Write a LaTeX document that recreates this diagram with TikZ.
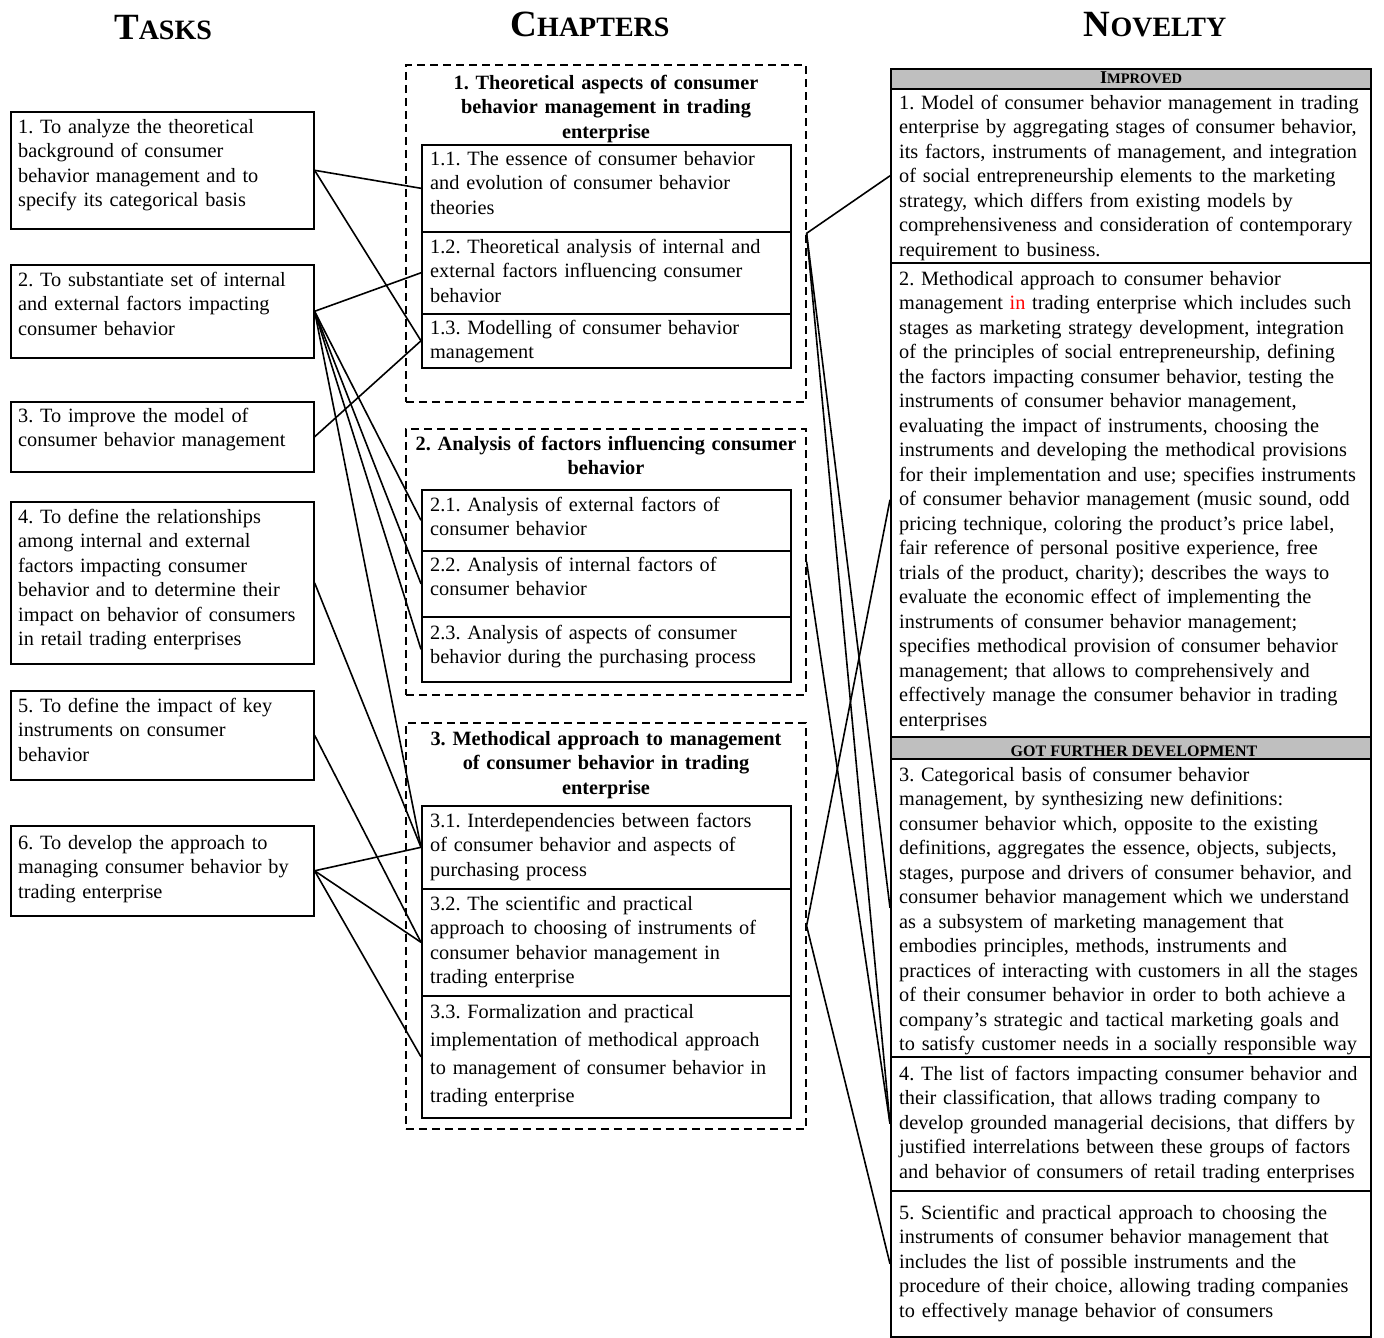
\documentclass[tikz,border=0pt]{standalone}
\usepackage{fontspec}
\setmainfont{Liberation Serif}
\usetikzlibrary{calc}
\definecolor{hgray}{HTML}{BFBFBF}
\frenchspacing
\begin{document}
\begin{tikzpicture}[x=1pt,y=-1pt,
  box/.style={draw, line width=1.6pt, inner sep=0pt, anchor=north west},
  chframe/.style={draw, dash pattern=on 8pt off 5pt, line width=1.6pt, inner sep=0pt, anchor=north west},
  hdr/.style={draw, line width=1.6pt, fill=hgray, inner sep=0pt, anchor=north west},
  txt/.style={inner sep=0pt, align=left, anchor=base west, font=\fontsize{20.3}{24.5}\selectfont\frenchspacing},
  ttl/.style={inner sep=0pt, align=center, text width=398pt, anchor=base, font=\fontsize{20.3}{24.5}\selectfont\bfseries\frenchspacing},
  head/.style={inner sep=0pt, anchor=base, font=\bfseries},
  link/.style={line width=1.6pt}
]
\useasboundingbox[fill=white] (0,0) rectangle (1384,1338);

% column titles
\node[head] (htasks) at (163,40) {{\fontsize{37}{37}\selectfont T}{\fontsize{28}{28}\selectfont ASKS}};
\node[head] (hchap) at (590,37) {{\fontsize{37}{37}\selectfont C}{\fontsize{28}{28}\selectfont HAPTERS}};
\node[head] (hnov) at (1155,37) {{\fontsize{37}{37}\selectfont N}{\fontsize{28}{28}\selectfont OVELTY}};

% tasks
\node[box, minimum width=303, minimum height=117] (t1) at (10,111) {};
\node[box, minimum width=303, minimum height=93] (t2) at (10,264) {};
\node[box, minimum width=303, minimum height=70] (t3) at (10,401) {};
\node[box, minimum width=303, minimum height=162] (t4) at (10,501) {};
\node[box, minimum width=303, minimum height=89] (t5) at (10,690) {};
\node[box, minimum width=303, minimum height=90] (t6) at (10,825) {};

\begin{scope}[every node/.append style={text width=292pt}]
\node[txt] (t1x) at (18,133) {1. To analyze the theoretical\\background of consumer\\behavior management and to\\specify its categorical basis};
\node[txt] (t2x) at (18,286) {2. To substantiate set of internal\\and external factors impacting\\consumer behavior};
\node[txt] (t3x) at (18,422) {3. To improve the model of\\consumer behavior management};
\node[txt] (t4x) at (18,523) {4. To define the relationships\\among internal and external\\factors impacting consumer\\behavior and to determine their\\impact on behavior of consumers\\in retail trading enterprises};
\node[txt] (t5x) at (18,712) {5. To define the impact of key\\instruments on consumer\\behavior};
\node[txt] (t6x) at (18,849) {6. To develop the approach to\\managing consumer behavior by\\trading enterprise};
\end{scope}

% chapters
\node[chframe, minimum width=400, minimum height=337] (c1) at (405,64) {};
\node[chframe, minimum width=400, minimum height=266] (c2) at (405,428) {};
\node[chframe, minimum width=400, minimum height=406] (c3) at (405,722) {};

\node[ttl] (c1x) at (606,89) {1. Theoretical aspects of consumer\\behavior management in trading\\enterprise};
\node[ttl] (c2x) at (606,450) {2. Analysis of factors influencing consumer\\behavior};
\node[ttl] (c3x) at (606,745) {3. Methodical approach to management\\of consumer behavior in trading\\enterprise};

\node[box, minimum width=369, minimum height=87] (s11) at (421,144) {};
\node[box, minimum width=369, minimum height=82] (s12) at (421,231) {};
\node[box, minimum width=369, minimum height=54] (s13) at (421,313) {};
\node[box, minimum width=369, minimum height=61] (s21) at (421,489) {};
\node[box, minimum width=369, minimum height=66] (s22) at (421,550) {};
\node[box, minimum width=369, minimum height=65] (s23) at (421,616) {};
\node[box, minimum width=369, minimum height=83] (s31) at (421,805) {};
\node[box, minimum width=369, minimum height=107] (s32) at (421,888) {};
\node[box, minimum width=369, minimum height=122] (s33) at (421,995) {};

\begin{scope}[every node/.append style={text width=362pt}]
\node[txt] (s11x) at (430,165) {1.1. The essence of consumer behavior\\and evolution of consumer behavior\\theories};
\node[txt] (s12x) at (430,253) {1.2. Theoretical analysis of internal and\\external factors influencing consumer\\behavior};
\node[txt] (s13x) at (430,334) {1.3. Modelling of consumer behavior\\management};
\node[txt] (s21x) at (430,511) {2.1. Analysis of external factors of\\consumer behavior};
\node[txt] (s22x) at (430,571) {2.2. Analysis of internal factors of\\consumer behavior};
\node[txt] (s23x) at (430,639) {2.3. Analysis of aspects of consumer\\behavior during the purchasing process};
\node[txt] (s31x) at (430,827) {3.1. Interdependencies between factors\\of consumer behavior and aspects of\\purchasing process};
\node[txt] (s32x) at (430,910) {3.2. The scientific and practical\\approach to choosing of instruments of\\consumer behavior management in\\trading enterprise};
\node[txt, font=\fontsize{20.3}{28}\selectfont] (s33x) at (430,1018) {3.3. Formalization and practical\\implementation of methodical approach\\to management of consumer behavior in\\trading enterprise};
\end{scope}

% novelty
\node[hdr, minimum width=480, minimum height=20] (h1) at (890,68) {};
\node[box, minimum width=480, minimum height=174] (n1) at (890,88) {};
\node[box, minimum width=480, minimum height=474] (n2) at (890,262) {};
\node[hdr, minimum width=480, minimum height=22] (h2) at (890,736) {};
\node[box, minimum width=480, minimum height=298] (n3) at (890,758) {};
\node[box, minimum width=480, minimum height=134] (n4) at (890,1056) {};
\node[box, minimum width=480, minimum height=146] (n5) at (890,1190) {};

\node[head] (h1x) at (1141,84) {{\fontsize{18}{18}\selectfont I}{\fontsize{14.5}{14.5}\selectfont MPROVED}};
\node[head, font=\fontsize{16}{16}\selectfont\bfseries] (h2x) at (1134,756) {GOT FURTHER DEVELOPMENT};

\begin{scope}[every node/.append style={text width=476pt}]
\node[txt] (n1x) at (899,109) {1. Model of consumer behavior management in trading\\enterprise by aggregating stages of consumer behavior,\\its factors, instruments of management, and integration\\of social entrepreneurship elements to the marketing\\strategy, which differs from existing models by\\comprehensiveness and consideration of contemporary\\requirement to business.};
\node[txt] (n2x) at (899,285) {2. Methodical approach to consumer behavior\\management \textcolor{red}{in} trading enterprise which includes such\\stages as marketing strategy development, integration\\of the principles of social entrepreneurship, defining\\the factors impacting consumer behavior, testing the\\instruments of consumer behavior management,\\evaluating the impact of instruments, choosing the\\instruments and developing the methodical provisions\\for their implementation and use; specifies instruments\\of consumer behavior management (music sound, odd\\pricing technique, coloring the product’s price label,\\fair reference of personal positive experience, free\\trials of the product, charity); describes the ways to\\evaluate the economic effect of implementing the\\instruments of consumer behavior management;\\specifies methodical provision of consumer behavior\\management; that allows to comprehensively and\\effectively manage the consumer behavior in trading\\enterprises};
\node[txt] (n3x) at (899,781) {3. Categorical basis of consumer behavior\\management, by synthesizing new definitions:\\consumer behavior which, opposite to the existing\\definitions, aggregates the essence, objects, subjects,\\stages, purpose and drivers of consumer behavior, and\\consumer behavior management which we understand\\as a subsystem of marketing management that\\embodies principles, methods, instruments and\\practices of interacting with customers in all the stages\\of their consumer behavior in order to both achieve a\\company’s strategic and tactical marketing goals and\\to satisfy customer needs in a socially responsible way};
\node[txt] (n4x) at (899,1080) {4. The list of factors impacting consumer behavior and\\their classification, that allows trading company to\\develop grounded managerial decisions, that differs by\\justified interrelations between these groups of factors\\and behavior of consumers of retail trading enterprises};
\node[txt] (n5x) at (899,1219) {5. Scientific and practical approach to choosing the\\instruments of consumer behavior management that\\includes the list of possible instruments and the\\procedure of their choice, allowing trading companies\\to effectively manage behavior of consumers};
\end{scope}

% connectors tasks -> chapters
\draw[link] (t1.east) -- (s11.west);
\draw[link] (t1.east) -- (s13.west);
\draw[link] (t2.east) -- (s12.west);
\draw[link] (t2.east) -- (s21.west);
\draw[link] (t2.east) -- (s22.west);
\draw[link] (t2.east) -- (s23.west);
\draw[link] (t2.east) -- (s31.west);
\draw[link] (t3.east) -- (s13.west);
\draw[link] (t4.east) -- (s31.west);
\draw[link] (t5.east) -- (s32.west);
\draw[link] (t6.east) -- (s31.west);
\draw[link] (t6.east) -- (s32.west);
\draw[link] (t6.east) -- (s33.west);

% connectors chapters -> novelty
\draw[link] (c1.east) -- (n1.west);
\draw[link] (c1.east) -- (n3.west);
\draw[link] (c1.east) -- (n4.west);
\draw[link] (c2.east) -- (n4.west);
\draw[link] (c3.east) -- (n2.west);
\draw[link] (c3.east) -- (n5.west);
\end{tikzpicture}
\end{document}
